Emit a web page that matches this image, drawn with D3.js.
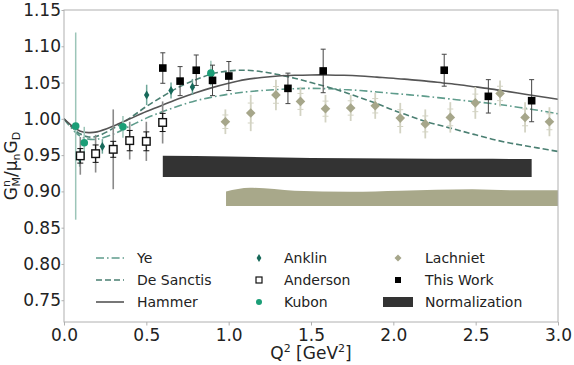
<!DOCTYPE html>
<html><head><meta charset="utf-8">
<script src="https://cdn.jsdelivr.net/npm/d3@7"></script>
<style>
body{margin:0;background:#fff;}
text{font-family:"DejaVu Sans",sans-serif;}
</style></head>
<body><svg id="c" width="574" height="365"></svg>
<script>
// ---- Data ----
const xTicks = [0.0,0.5,1.0,1.5,2.0,2.5,3.0];
const yTicks = [0.75,0.80,0.85,0.90,0.95,1.00,1.05,1.10,1.15];

const curveQ2 = [0,0.05,0.1,0.15,0.2,0.3,0.4,0.5,0.6,0.7,0.8,0.9,1.0,1.1,1.2,1.3,1.4,1.5,1.6,1.7,1.8,1.9,2.0,2.1,2.2,2.3,2.4,2.5,2.6,2.7,2.8,2.9,3.0];
const yeVal      = [1.0,0.986,0.976,0.972,0.972,0.979,0.990,1.001,1.010,1.018,1.025,1.030,1.034,1.037,1.039,1.0405,1.0415,1.042,1.0415,1.0405,1.039,1.037,1.035,1.033,1.031,1.0285,1.026,1.0235,1.021,1.018,1.0145,1.011,1.007];
const deSanctisVal = [1.0,0.988,0.979,0.975,0.976,0.987,1.001,1.017,1.031,1.044,1.054,1.062,1.066,1.067,1.065,1.061,1.056,1.050,1.044,1.037,1.029,1.021,1.012,1.004,0.996,0.990,0.984,0.978,0.972,0.967,0.963,0.959,0.955];
const hammerVal  = [1.0,0.990,0.983,0.981,0.982,0.990,1.000,1.010,1.019,1.028,1.036,1.043,1.049,1.054,1.057,1.059,1.060,1.0605,1.0605,1.060,1.059,1.0575,1.056,1.054,1.052,1.0495,1.047,1.044,1.041,1.0375,1.034,1.0305,1.027];

const anklinQ2  = [0.095,0.233,0.502,0.650,0.780];
const anklinVal = [0.946,0.962,1.033,1.039,1.044];
const anklinErr = [0.012,0.010,0.014,0.011,0.011];

const andersonQ2   = [0.099,0.192,0.299,0.399,0.500,0.599];
const andersonVal  = [0.949,0.952,0.958,0.970,0.969,0.995];
const andersonStat = [0.010,0.012,0.011,0.014,0.013,0.0125];
const andersonTot  = [0.026,0.026,0.055,0.026,0.027,0.029];

const kubonQ2  = [0.071,0.123,0.358,0.892];
const kubonVal = [0.990,0.967,0.989,1.063];
const kubonErr = [0.129,0.022,0.015,0.017];

const lachnietQ2  = [0.980,1.134,1.287,1.436,1.588,1.741,1.890,2.042,2.194,2.346,2.498,2.648,2.800,2.948];
const lachnietVal = [0.996,1.008,1.033,1.024,1.014,1.015,1.018,1.001,0.993,1.002,1.022,1.035,1.002,0.996];
const lachnietErr = [0.017,0.025,0.021,0.020,0.019,0.018,0.018,0.021,0.020,0.021,0.022,0.018,0.021,0.020];

const thisWorkQ2  = [0.600,0.705,0.803,0.902,1.001,1.360,1.574,2.309,2.577,2.840];
const thisWorkVal = [1.070,1.052,1.067,1.053,1.059,1.042,1.066,1.067,1.031,1.025];
const thisWorkErr = [0.021,0.020,0.021,0.021,0.020,0.021,0.030,0.022,0.023,0.029];

const normQ2  = [0.60,1.0,1.5,2.0,2.5,2.84];
const normTop = [0.949,0.948,0.946,0.9455,0.945,0.9445];
const normBot = [0.920,0.920,0.920,0.920,0.920,0.920];

const lachBandQ2  = [0.984,1.13,1.4,1.74,2.04,2.48,2.75,3.0];
const lachBandTop = [0.900,0.905,0.901,0.8996,0.901,0.903,0.9015,0.9015];
const lachBandBot = [0.880,0.880,0.880,0.880,0.880,0.880,0.880,0.880];

// ---- Styles ----
const C = {ye:"#5f9c8c", ds:"#4a7f72", ham:"#555555", anklin:"#17695a", kubon:"#1b9e77",
  lach:"#a6a68a", lachErr:"#d3d3c3", norm:"#333333", lachBand:"#a8a88a", axis:"#b0b0b0"};

const svg = d3.select("#c");
const L=64, R=558, T=10, B=322;
const x = d3.scaleLinear().domain([0,3]).range([L,R]);
const y = d3.scaleLinear().domain([0.72,1.15]).range([B,T]);

svg.append("defs").append("clipPath").attr("id","clip").append("rect")
  .attr("x",L).attr("y",T).attr("width",R-L).attr("height",B-T);
const g = svg.append("g").attr("clip-path","url(#clip)");

// bands
const area = d3.area().x(d=>x(d[0])).y0(d=>y(d[2])).y1(d=>y(d[1])).curve(d3.curveMonotoneX);
g.append("path").datum(normQ2.map((q,i)=>[q,normTop[i],normBot[i]])).attr("d",area).attr("fill",C.norm);
g.append("path").datum(lachBandQ2.map((q,i)=>[q,lachBandTop[i],lachBandBot[i]])).attr("d",area).attr("fill",C.lachBand);

// curves
const line = d3.line().x(d=>x(d[0])).y(d=>y(d[1])).curve(d3.curveCatmullRom);
function curve(vals,color,dash){
  g.append("path").datum(curveQ2.map((q,i)=>[q,vals[i]])).attr("d",line)
   .attr("fill","none").attr("stroke",color).attr("stroke-width",1.6).attr("stroke-dasharray",dash);
}
curve(yeVal,C.ye,"8,3,1.6,3");
curve(deSanctisVal,C.ds,"6,3");
curve(hammerVal,C.ham,null);

// error bar helper
function ebar(q,v,e,color,w,cap){
  const gg=g.append("g");
  q.forEach((qq,i)=>{
    gg.append("line").attr("x1",x(qq)).attr("x2",x(qq)).attr("y1",y(v[i]-e[i])).attr("y2",y(v[i]+e[i]))
      .attr("stroke",color).attr("stroke-width",w);
    if(cap){[v[i]-e[i],v[i]+e[i]].forEach(yy=>gg.append("line").attr("x1",x(qq)-cap).attr("x2",x(qq)+cap)
      .attr("y1",y(yy)).attr("y2",y(yy)).attr("stroke",color).attr("stroke-width",1));}
  });
}
const halfStat = lachnietErr.map(e=>e*0.55);
ebar(kubonQ2,kubonVal,kubonErr,"#9cc5b8",1.5,0);
ebar(anklinQ2,anklinVal,anklinErr,"#6fa79a",1.5,0);
ebar(lachnietQ2,lachnietVal,lachnietErr,C.lachErr,1.8,0);
ebar(lachnietQ2,lachnietVal,halfStat,C.lachErr,1.2,3);
ebar(andersonQ2,andersonVal,andersonTot,"#8a8a8a",1.6,0);
ebar(andersonQ2,andersonVal,andersonStat,"#111",1,3);
ebar(thisWorkQ2,thisWorkVal,thisWorkErr,"#444",1,2.5);

// markers
function diamondThin(s){return `M0,${-s}L${s*0.6},0L0,${s}L${-s*0.6},0Z`;}
function diamond(s){return `M0,${-s}L${s},0L0,${s}L${-s},0Z`;}

lachnietQ2.forEach((q,i)=>g.append("path").attr("d",diamond(4.8)).attr("transform",`translate(${x(q)},${y(lachnietVal[i])})`).attr("fill",C.lach));
kubonQ2.forEach((q,i)=>g.append("circle").attr("cx",x(q)).attr("cy",y(kubonVal[i])).attr("r",3.8).attr("fill",C.kubon));
anklinQ2.forEach((q,i)=>g.append("path").attr("d",diamondThin(4.5)).attr("transform",`translate(${x(q)},${y(anklinVal[i])})`).attr("fill",C.anklin));
andersonQ2.forEach((q,i)=>g.append("rect").attr("x",x(q)-3.8).attr("y",y(andersonVal[i])-3.8).attr("width",7.6).attr("height",7.6)
  .attr("fill","#fff").attr("stroke","#111").attr("stroke-width",1.4));
thisWorkQ2.forEach((q,i)=>g.append("rect").attr("x",x(q)-3.8).attr("y",y(thisWorkVal[i])-3.8).attr("width",7.6).attr("height",7.6).attr("fill","#000"));

// frame
svg.append("rect").attr("x",L).attr("y",T).attr("width",R-L).attr("height",B-T).attr("fill","none").attr("stroke",C.axis).attr("stroke-width",1);

// axes
const xa = svg.append("g").attr("transform",`translate(0,${B})`)
  .call(d3.axisBottom(x).tickValues(xTicks).tickFormat(d3.format(".1f")).tickSize(3.5).tickPadding(3));
const ya = svg.append("g").attr("transform",`translate(${L},0)`)
  .call(d3.axisLeft(y).tickValues(yTicks).tickFormat(d3.format(".2f")).tickSize(2.5).tickPadding(0.5));
[xa,ya].forEach(a=>{a.select(".domain").remove();
  a.selectAll(".tick line").attr("stroke",C.axis);
  a.selectAll(".tick text").attr("font-size",17).attr("fill","#222").style("font-family","DejaVu Sans");});

// axis labels
const xl = svg.append("text").attr("x",(L+R)/2).attr("y",359).attr("text-anchor","middle").attr("font-size",17).attr("fill","#222");
xl.append("tspan").text("Q");
xl.append("tspan").attr("font-size",11).attr("dy",-7).text("2");
xl.append("tspan").attr("dy",7).text(" [GeV");
xl.append("tspan").attr("font-size",11).attr("dy",-7).text("2");
xl.append("tspan").attr("dy",7).text("]");

const yl = svg.append("text").attr("transform",`translate(16.5,${(T+B)/2}) rotate(-90)`).attr("text-anchor","middle").attr("font-size",17).attr("fill","#222");
yl.append("tspan").text("G");
yl.append("tspan").attr("font-size",11).attr("dy",-7).text("n");
yl.append("tspan").attr("font-size",11).attr("dx",-6.5).attr("dy",10).text("M");
yl.append("tspan").attr("dy",-3).text("/μ");
yl.append("tspan").attr("font-size",11).attr("dy",3).text("n");
yl.append("tspan").attr("dy",-3).text("G");
yl.append("tspan").attr("font-size",11).attr("dy",3).text("D");

// legend
const leg = svg.append("g").attr("font-size",14).attr("fill","#222");
const rows=[258,280,302];
function ltext(xx,yy,t){leg.append("text").attr("x",xx).attr("y",yy).attr("dy","0.35em").text(t);}
[[C.ye,"8,3,1.6,3","Ye"],[C.ds,"6,3","De Sanctis"],[C.ham,null,"Hammer"]].forEach((d,i)=>{
  leg.append("line").attr("x1",96).attr("x2",124).attr("y1",rows[i]).attr("y2",rows[i]).attr("stroke",d[0]).attr("stroke-width",1.6).attr("stroke-dasharray",d[1]);
  ltext(137,rows[i],d[2]);
});
leg.append("path").attr("d",diamondThin(4)).attr("transform",`translate(259,${rows[0]})`).attr("fill",C.anklin);
ltext(284,rows[0],"Anklin");
leg.append("rect").attr("x",256).attr("y",rows[1]-3).attr("width",6).attr("height",6).attr("fill","#fff").attr("stroke","#111").attr("stroke-width",1.2);
ltext(284,rows[1],"Anderson");
leg.append("circle").attr("cx",259).attr("cy",rows[2]).attr("r",3).attr("fill",C.kubon);
ltext(284,rows[2],"Kubon");
leg.append("path").attr("d",diamond(3.5)).attr("transform",`translate(398,${rows[0]})`).attr("fill",C.lach);
ltext(425,rows[0],"Lachniet");
leg.append("rect").attr("x",395).attr("y",rows[1]-3).attr("width",6).attr("height",6).attr("fill","#000");
ltext(425,rows[1],"This Work");
leg.append("rect").attr("x",383).attr("y",rows[2]-5).attr("width",30).attr("height",10).attr("fill",C.norm);
ltext(425,rows[2],"Normalization");
</script></body></html>
